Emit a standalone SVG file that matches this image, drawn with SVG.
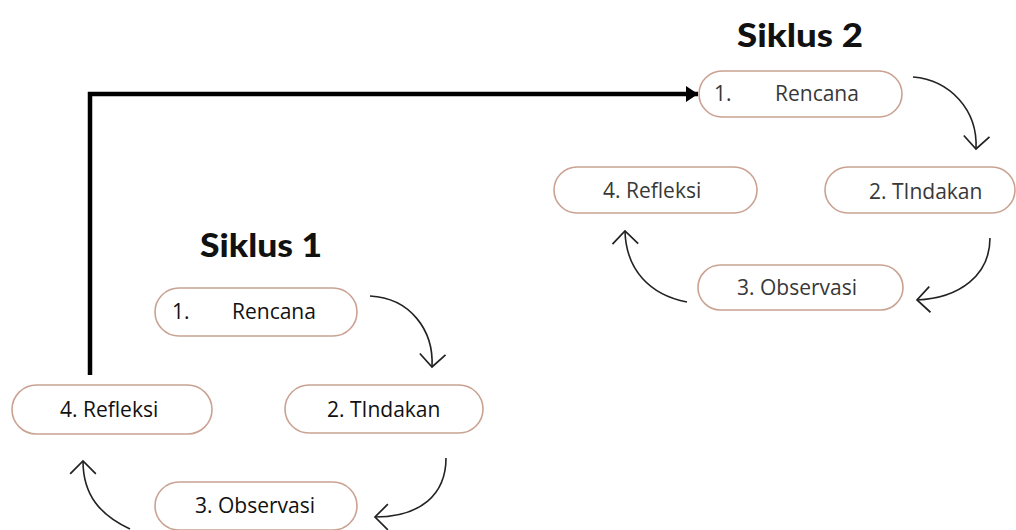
<svg xmlns="http://www.w3.org/2000/svg" width="1016" height="530" viewBox="0 0 1016 530">
<style>
.box{fill:#ffffff;stroke:#c9a292;stroke-width:1.6}
.t1{font-family:"Open Sans","Liberation Sans",sans-serif;font-size:21px;font-weight:500;fill:#111111}
.t2{font-family:"Open Sans","Liberation Sans",sans-serif;font-size:21px;fill:#383838}
.head{font-family:"Lato","Liberation Sans",sans-serif;font-weight:900;font-size:32px;fill:#111111}
.curve{fill:none;stroke:#222222;stroke-width:1.6}
.main{fill:none;stroke:#000000;stroke-width:4.5}
</style>
<defs>
<marker id="vhead" markerUnits="userSpaceOnUse" markerWidth="30" markerHeight="30" viewBox="-14 -14 28 28" refX="0" refY="0" orient="auto">
<path d="M-12,-12 L0,0 L-12,12" fill="none" stroke="#222222" stroke-width="1.6"/>
</marker>
<marker id="solid" markerUnits="userSpaceOnUse" markerWidth="20" markerHeight="20" viewBox="-14 -10 16 20" refX="0" refY="0" orient="auto">
<path d="M-12,-8 L0,0 L-12,8 Z" fill="#000000"/>
</marker>
</defs>
<rect width="1016" height="530" fill="#ffffff"/>
<text class="head" x="737" y="47" textLength="126" lengthAdjust="spacingAndGlyphs">Siklus 2</text>
<text class="head" x="200" y="257" textLength="122" lengthAdjust="spacingAndGlyphs">Siklus 1</text>
<g id="connectors">
<path class="main" d="M90,375 L90,94 L698,94" marker-end="url(#solid)"/>
<path class="curve" d="M370,296 C410,298 434,330 432,367" marker-end="url(#vhead)"/>
<path class="curve" d="M446,458 C446,495 420,517 375,517" marker-end="url(#vhead)"/>
<path class="curve" d="M130,529 C100,515 83,495 83,461" marker-end="url(#vhead)"/>
<path class="curve" d="M913,77 C950,80 978,110 976,149" marker-end="url(#vhead)"/>
<path class="curve" d="M990,238 C990,275 960,298 917,300" marker-end="url(#vhead)"/>
<path class="curve" d="M687,302 C650,295 626,270 625,231" marker-end="url(#vhead)"/>
</g>
<g id="s2-rencana">
<rect class="box" x="699" y="71" width="203" height="46" rx="23"/>
<text class="t2" x="714" y="101">1.</text>
<text class="t2" x="775" y="101">Rencana</text>
</g>
<g id="s2-tindakan">
<rect class="box" x="825" y="167" width="190" height="46" rx="23"/>
<text class="t2" x="869" y="199">2. TIndakan</text>
</g>
<g id="s2-refleksi">
<rect class="box" x="554" y="167" width="203" height="46" rx="23"/>
<text class="t2" x="603" y="198">4. Refleksi</text>
</g>
<g id="s2-observasi">
<rect class="box" x="698" y="265" width="205" height="45" rx="22.5"/>
<text class="t2" x="737" y="295">3. Observasi</text>
</g>
<g id="s1-rencana">
<rect class="box" x="155" y="288" width="202" height="48" rx="24"/>
<text class="t1" x="172" y="319">1.</text>
<text class="t1" x="232" y="319">Rencana</text>
</g>
<g id="s1-refleksi">
<rect class="box" x="12" y="385" width="200" height="49" rx="24.5"/>
<text class="t1" x="60" y="417">4. Refleksi</text>
</g>
<g id="s1-tindakan">
<rect class="box" x="285" y="385" width="198" height="48" rx="24"/>
<text class="t1" x="327" y="417">2. TIndakan</text>
</g>
<g id="s1-observasi">
<rect class="box" x="155" y="482" width="202" height="48" rx="24"/>
<text class="t1" x="195" y="513">3. Observasi</text>
</g>
</svg>
